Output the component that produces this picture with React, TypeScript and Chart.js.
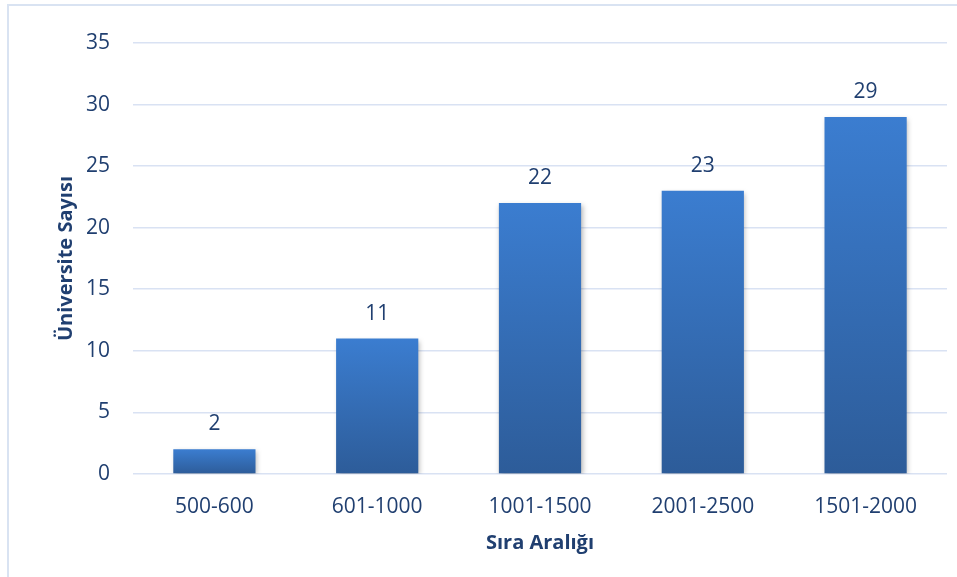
import React, { useEffect, useRef } from "react";
import { Chart, registerables } from "chart.js";

Chart.register(...registerables);

const categories = ["500-600", "601-1000", "1001-1500", "2001-2500", "1501-2000"];
const values = [2, 11, 22, 23, 29];
const yTitle = "Üniversite Sayısı";
const xTitle = "Sıra Aralığı";
const yMax = 35;
const yStep = 5;

const TEXT = "#203f70";
const FONT = "'Open Sans', 'Noto Sans', sans-serif";

const labelPlugin = {
  id: "valueLabels",
  beforeDatasetsDraw(chart: any) {
    const ctx = chart.ctx;
    ctx.save();
    ctx.shadowColor = "rgba(0,0,0,0.28)";
    ctx.shadowBlur = 5;
    ctx.shadowOffsetX = 1.5;
    ctx.shadowOffsetY = 2;
  },
  afterDatasetsDraw(chart: any) {
    const ctx = chart.ctx;
    ctx.restore();
    const meta = chart.getDatasetMeta(0);
    ctx.save();
    ctx.fillStyle = TEXT;
    ctx.font = `21px ${FONT}`;
    ctx.textAlign = "center";
    ctx.textBaseline = "middle";
    meta.data.forEach((bar: any, i: number) => {
      ctx.fillText(String(values[i]), bar.x, bar.y - 25);
    });
    ctx.restore();
  },
};

export default function App() {
  const ref = useRef<HTMLCanvasElement>(null);
  useEffect(() => {
    if (!ref.current) return;
    const chart = new Chart(ref.current, {
      type: "bar",
      data: {
        labels: categories,
        datasets: [
          {
            data: values,
            barPercentage: 0.505,
            categoryPercentage: 1,
            backgroundColor: (c: any) => {
              const ch = c.chart;
              const ys = ch.scales && ch.scales.y;
              if (!ys || c.raw == null) return "#3670b8";
              const top = ys.getPixelForValue(c.raw);
              const bot = ys.getPixelForValue(0);
              if (!isFinite(top) || !isFinite(bot) || top === bot) return "#3670b8";
              const g = ch.ctx.createLinearGradient(0, top, 0, bot);
              g.addColorStop(0, "#3b7dd0");
              g.addColorStop(1, "#2d5c99");
              return g;
            },
            borderWidth: 0,
          },
        ],
      },
      options: {
        animation: false,
        responsive: false,
        devicePixelRatio: 1,
        layout: { padding: { left: 54, right: 10, top: 43, bottom: 0 } },
        plugins: { legend: { display: false }, tooltip: { enabled: false } },
        scales: {
          x: {
            grid: { display: false, drawTicks: false },
            border: { display: false },
            ticks: { color: TEXT, font: { family: FONT, size: 21 }, padding: 20 },
            title: {
              display: true,
              text: xTitle,
              color: TEXT,
              font: { family: FONT, size: 20, weight: "bold" },
              padding: { top: 0, bottom: 22 },
            },
            afterFit: (s: any) => {
              s.height = 103;
            },
          },
          y: {
            min: 0,
            max: yMax,
            ticks: { stepSize: yStep, color: TEXT, font: { family: FONT, size: 21 }, padding: 23 },
            grid: { color: "#d9e2f3", lineWidth: 1.6, drawTicks: false },
            border: { display: false },
            title: {
              display: true,
              text: yTitle,
              color: TEXT,
              font: { family: FONT, size: 20, weight: "bold" },
              padding: { top: 0, bottom: 0 },
            },
            afterFit: (s: any) => {
              s.width = 79;
            },
          },
        },
      },
      plugins: [labelPlugin],
    } as any);
    return () => chart.destroy();
  }, []);
  return (
    <div
      style={{
        position: "absolute",
        left: 0,
        top: 0,
        width: 957,
        height: 577,
        overflow: "hidden",
        background: "#fff",
      }}
    >
      <div
        style={{
          position: "absolute",
          left: 7,
          top: 4,
          width: 1100,
          height: 800,
          border: "2px solid #d9e3f2",
        }}
      />
      <canvas ref={ref} width={957} height={577} style={{ position: "absolute", left: 0, top: 0 }} />
    </div>
  );
}
